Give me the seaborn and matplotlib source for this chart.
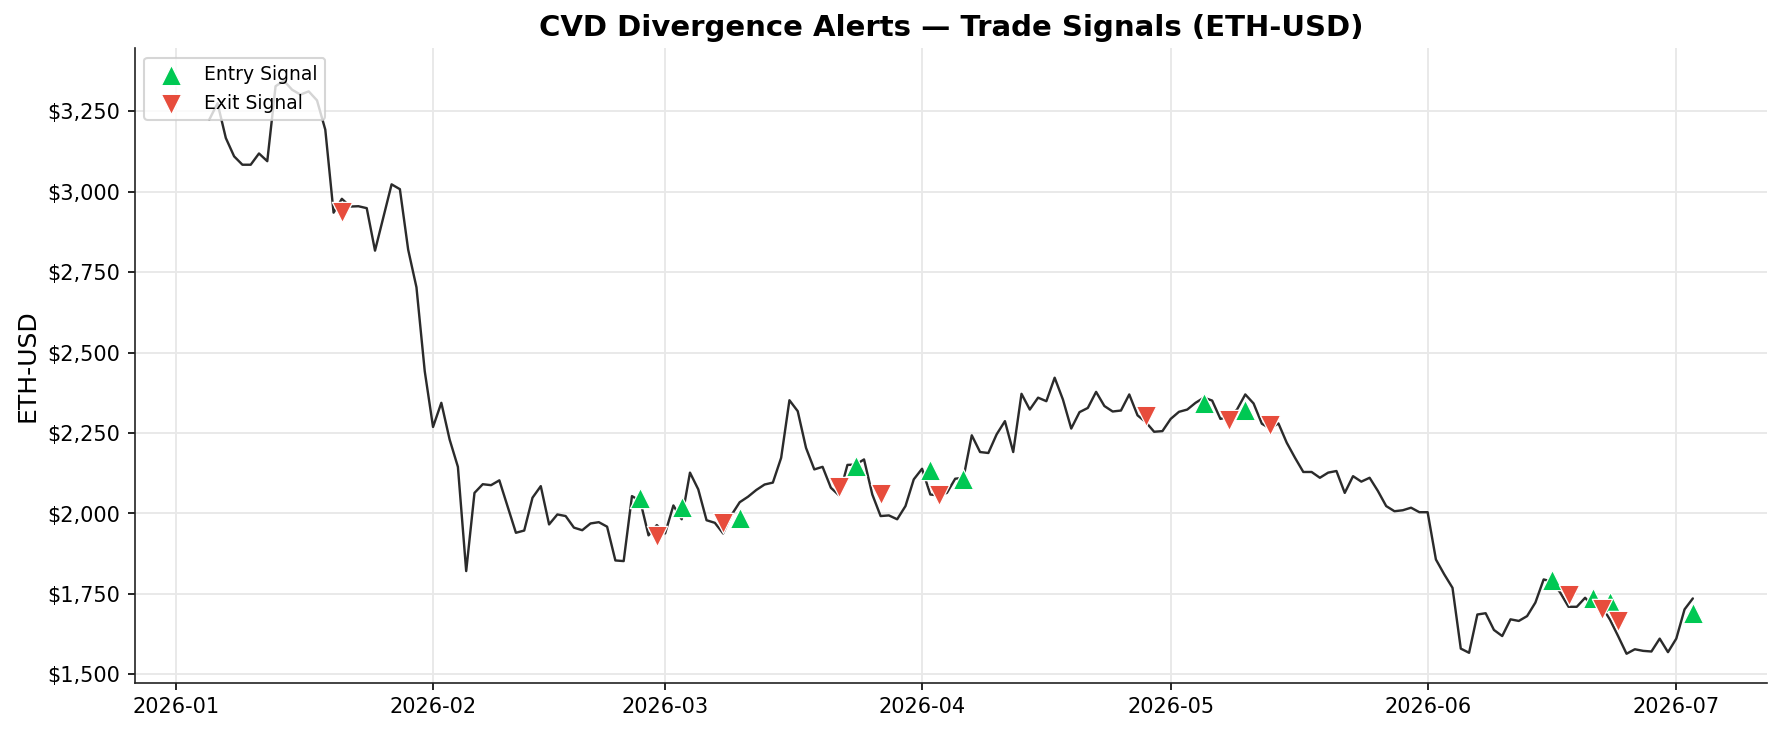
import numpy as np
import pandas as pd
import matplotlib
matplotlib.use("Agg")
import matplotlib.pyplot as plt
import matplotlib.ticker as mticker
import seaborn as sns

start_date = "2026-01-05"
prices_jan = [3224, 3275, 3167, 3110, 3084, 3084, 3119, 3095, 3328, 3345, 3317, 3302, 3312, 3284,
              3193, 2935, 2978, 2954, 2955, 2949, 2817, 2920, 3023, 3008, 2820, 2703, 2442]
prices_feb = [2269, 2344, 2230, 2145, 1821, 2064, 2091, 2088, 2103, 2022, 1940, 1947, 2049, 2085,
              1966, 1997, 1992, 1956, 1948, 1969, 1973, 1959, 1854, 1852, 2054, 2039, 1932, 1964]
prices_mar = [1938, 2025, 1982, 2127, 2075, 1979, 1971, 1938, 1995, 2035, 2052, 2073, 2090, 2096,
              2173, 2352, 2318, 2204, 2137, 2145, 2080, 2056, 2151, 2152, 2168, 2059, 1992, 1994,
              1982, 2023, 2106]
prices_apr = [2139, 2059, 2056, 2064, 2108, 2111, 2243, 2191, 2188, 2246, 2287, 2191, 2372, 2323,
              2360, 2349, 2422, 2354, 2264, 2315, 2328, 2378, 2334, 2317, 2320, 2370, 2305, 2284,
              2254, 2256]
prices_may = [2294, 2316, 2323, 2344, 2360, 2351, 2294, 2300, 2323, 2370, 2342, 2279, 2264, 2280,
              2220, 2173, 2129, 2129, 2111, 2127, 2132, 2064, 2116, 2099, 2111, 2070, 2023, 2007,
              2010, 2018, 2004]
prices_jun = [2004, 1857, 1811, 1769, 1580, 1567, 1686, 1690, 1638, 1619, 1671, 1666, 1681, 1723,
              1795, 1788, 1754, 1710, 1710, 1738, 1710, 1712, 1670, 1618, 1564, 1578, 1573, 1571,
              1611, 1569]
prices_jul = [1611, 1702, 1736]

entry_dates = ["2026-02-26", "2026-03-03", "2026-03-10", "2026-03-24", "2026-04-02", "2026-04-06",
               "2026-05-05", "2026-05-10", "2026-06-16", "2026-06-21", "2026-06-23", "2026-07-03"]
entry_prices = [2049, 2021, 1987, 2149, 2134, 2106, 2342, 2322, 1792, 1736, 1724, 1692]

exit_dates = ["2026-01-21", "2026-02-28", "2026-03-08", "2026-03-22", "2026-03-27", "2026-04-03",
              "2026-04-28", "2026-05-08", "2026-05-13", "2026-06-18", "2026-06-22", "2026-06-24"]
exit_prices = [2936, 1930, 1970, 2081, 2060, 2057, 2304, 2291, 2276, 1748, 1702, 1667]

prices = prices_jan + prices_feb + prices_mar + prices_apr + prices_may + prices_jun + prices_jul
df = pd.DataFrame({"date": pd.date_range(start_date, periods=len(prices), freq="D"),
                   "price": prices})
entries = pd.DataFrame({"date": pd.to_datetime(entry_dates), "price": entry_prices})
exits = pd.DataFrame({"date": pd.to_datetime(exit_dates), "price": exit_prices})

sns.set_style("ticks")
plt.rcParams["font.family"] = ["DejaVu Sans"]
plt.rcParams.update({"text.color": "black", "axes.labelcolor": "black",
                     "xtick.color": "black", "ytick.color": "black",
                     "axes.edgecolor": "#222222"})

fig = plt.figure(figsize=(11.88, 4.887), dpi=150)
ax = fig.add_axes([0.0758, 0.0686, 0.9158, 0.8655])

sns.lineplot(data=df, x="date", y="price", ax=ax, color="#2b2b2b", linewidth=1.15)
sns.scatterplot(data=entries, x="date", y="price", ax=ax, marker="^", color="#00c853",
                s=95, edgecolor="white", linewidth=0.6, label="Entry Signal", zorder=5)
sns.scatterplot(data=exits, x="date", y="price", ax=ax, marker="v", color="#e74c3c",
                s=95, edgecolor="white", linewidth=0.6, label="Exit Signal", zorder=5)

ax.set_ylim(1474, 3446)
ax.grid(True, color="#e8e8e8", linewidth=0.9)
ax.set_axisbelow(True)
sns.despine(ax=ax)
ax.yaxis.set_major_locator(mticker.MultipleLocator(250))
ax.yaxis.set_major_formatter(mticker.FuncFormatter(lambda v, p: f"${v:,.0f}"))
ax.tick_params(labelsize=10, colors="black")
ax.set_xlabel("")
ax.set_ylabel("ETH-USD", fontsize=12, color="black")
ax.set_title("CVD Divergence Alerts \u2014 Trade Signals (ETH-USD)", fontsize=14,
             fontweight="bold", color="black")
ax.legend(loc="upper left", fontsize=9, frameon=True, framealpha=0.8)

fig.savefig("out.png", dpi=150)
